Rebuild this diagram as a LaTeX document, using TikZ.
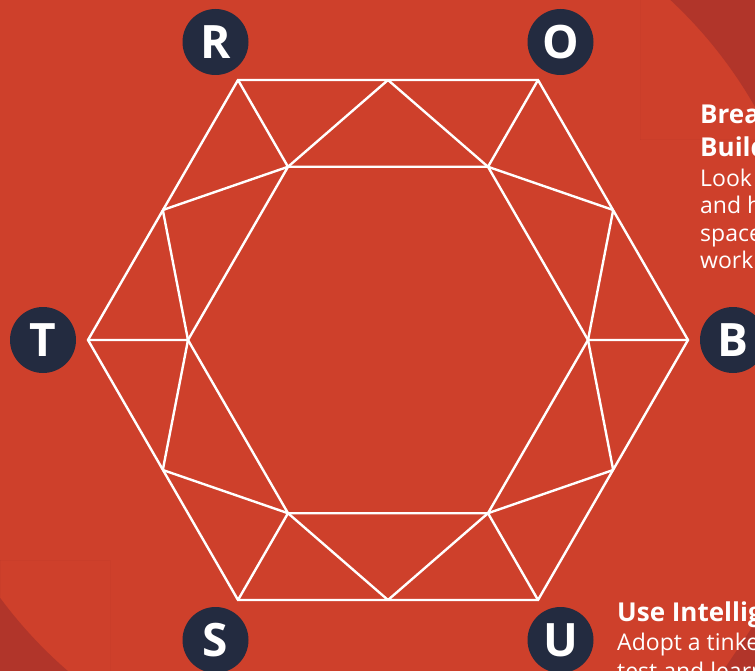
\documentclass[tikz,border=0pt]{standalone}
\usepackage{fontspec}
\setmainfont{Open Sans}
\definecolor{bgred}{HTML}{CE402B}
\definecolor{darkred}{HTML}{B1352A}
\definecolor{navy}{HTML}{232B40}
\tikzset{
  letter/.style={circle,fill=navy,minimum size=66pt,inner sep=0pt,text=white,font=\fontsize{46}{46}\selectfont\bfseries},
  gem/.style={draw=white,line width=2.4pt,line join=miter},
  headtxt/.style={anchor=base west,inner sep=0pt,text=white,font=\fontsize{26}{26}\selectfont\bfseries},
  bodytxt/.style={anchor=base west,inner sep=0pt,text=white,font=\fontsize{23}{23}\selectfont}
}
\begin{document}
\begin{tikzpicture}[x=1pt,y=-1pt]
\useasboundingbox (0,0) rectangle (755,671);
\fill[bgred] (0,0) rectangle (755,671);
\begin{scope}
\clip (640,0) rectangle (755,140);
\fill[darkred, even odd rule] (640,0) rectangle (755,140) (363,330) circle[radius=451];
\end{scope}
\begin{scope}
\clip (0,560) rectangle (110,671);
\fill[darkred, even odd rule] (0,560) rectangle (110,671) (363,330) circle[radius=451];
\end{scope}
\fill[darkred] (723,671) -- (755,623) -- (755,671) -- cycle;
% outer hexagon
\coordinate (o0) at (688,340);
\coordinate (o60) at (538,80);
\coordinate (o120) at (238,80);
\coordinate (o180) at (88,340);
\coordinate (o240) at (238,600);
\coordinate (o300) at (538,600);
% inner hexagon
\coordinate (i0) at (588,340);
\coordinate (i60) at (488,166.8);
\coordinate (i120) at (288,166.8);
\coordinate (i180) at (188,340);
\coordinate (i240) at (288,513.2);
\coordinate (i300) at (488,513.2);
% midpoints of outer edges
\coordinate (m30) at (613.2,210);
\coordinate (m90) at (388,80);
\coordinate (m150) at (162.8,210);
\coordinate (m210) at (162.8,470);
\coordinate (m270) at (388,600);
\coordinate (m330) at (613.2,470);
\draw[gem] (o0) -- (o60) -- (o120) -- (o180) -- (o240) -- (o300) -- cycle;
\draw[gem] (i0) -- (i60) -- (i120) -- (i180) -- (i240) -- (i300) -- cycle;
\draw[gem] (o0) -- (i0) (m330) -- (i0) -- (m30);
\draw[gem] (o60) -- (i60) (m30) -- (i60) -- (m90);
\draw[gem] (o120) -- (i120) (m90) -- (i120) -- (m150);
\draw[gem] (o180) -- (i180) (m150) -- (i180) -- (m210);
\draw[gem] (o240) -- (i240) (m210) -- (i240) -- (m270);
\draw[gem] (o300) -- (i300) (m270) -- (i300) -- (m330);
% letters
\node[letter] (R) at (215.5,42) {R};
\node[letter] (O) at (560.5,42) {O};
\node[letter] (T) at (43,340) {T};
\node[letter] (B) at (733,340) {B};
\node[letter] (S) at (215.5,640) {S};
\node[letter] (U) at (560.5,640) {U};
% texts
\node[headtxt] (h1) at (700,124) {Brea};
\node[headtxt] (h2) at (700,157) {Build};
\node[bodytxt] (b1) at (700,187) {Look};
\node[bodytxt] (b2) at (700,214) {and h};
\node[bodytxt] (b3) at (700,241) {space};
\node[bodytxt] (b4) at (700,268) {worki};
\node[headtxt] (h3) at (617,621) {Use Intellig};
\node[bodytxt] (b5) at (617,650) {Adopt a tinker};
\node[bodytxt] (b6) at (617,679) {test and learn};
\end{tikzpicture}
\end{document}
